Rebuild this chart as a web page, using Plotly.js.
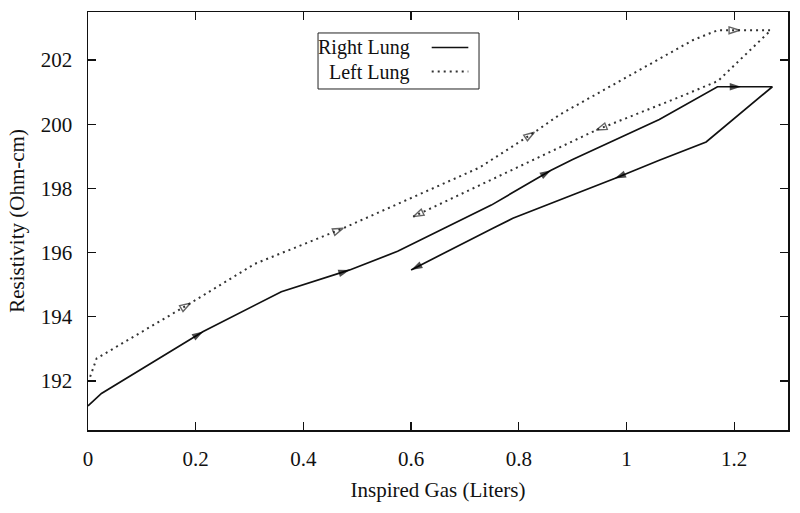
<!DOCTYPE html>
<html>
<head>
<meta charset="utf-8">
<script src="https://cdn.plot.ly/plotly-3.0.1.min.js"></script>
<style>html,body{margin:0;padding:0;background:#fff;}#chart{width:800px;height:513px;}</style>
</head>
<body>
<div id="chart"></div>
<script>
// Right Lung (solid) path
const rightX = [0, 0.025, 0.214, 0.359, 0.486, 0.575, 0.749, 0.86, 0.9, 1.061, 1.169, 1.213, 1.271, 1.148, 1.061, 0.978, 0.789, 0.752, 0.6];
const rightY = [191.22, 191.61, 193.54, 194.78, 195.46, 196.04, 197.48, 198.57, 198.9, 200.15, 201.17, 201.17, 201.17, 199.45, 198.88, 198.31, 197.07, 196.76, 195.46];
const rightArrows = [2, 4, 7, 11, 15, 18];

// Left Lung (dotted) path
const leftX = [0.004, 0.016, 0.19, 0.31, 0.474, 0.727, 0.829, 0.876, 1.123, 1.169, 1.21, 1.268, 1.17, 1.1, 0.944, 0.604];
const leftY = [192.13, 192.7, 194.42, 195.65, 196.76, 198.65, 199.75, 200.3, 202.62, 202.93, 202.93, 202.93, 201.35, 200.86, 199.82, 197.12];
const leftArrows = [2, 4, 6, 10, 14, 15];

const xTicks = [0, 0.2, 0.4, 0.6, 0.8, 1, 1.2];
const xTickText = ['0', '0.2', '0.4', '0.6', '0.8', '1', '1.2'];
const yTicks = [192, 194, 196, 198, 200, 202];
const yTickText = ['192', '194', '196', '198', '200', '202'];

const seriesNames = ['Right Lung', 'Left Lung'];

function sizesFor(n, idx, s) {
  const out = [];
  for (let i = 0; i < n; i++) out.push(idx.indexOf(i) >= 0 ? s : 0);
  return out;
}

const FONT = 'Liberation Serif, Times New Roman, serif';

const traces = [
  {
    x: rightX, y: rightY, mode: 'lines+markers', name: seriesNames[0],
    line: {color: '#111', width: 1.7, backoff: 0},
    marker: {symbol: 'arrow', angleref: 'previous', size: sizesFor(rightX.length, rightArrows, 12), color: '#000', line: {width: 0}},
    showlegend: false, hoverinfo: 'skip'
  },
  {
    x: leftX, y: leftY, mode: 'lines+markers', name: seriesNames[1],
    line: {color: '#333', width: 2, dash: '2px,4px', backoff: 0},
    marker: {symbol: 'arrow-open', angleref: 'previous', size: sizesFor(leftX.length, leftArrows, 11), color: '#222', line: {width: 1.4, color: '#222'}},
    showlegend: false, hoverinfo: 'skip'
  }
];

const axisCommon = {
  showgrid: false, zeroline: false, showline: true, linecolor: '#111', linewidth: 1.5,
  mirror: 'ticks', ticks: 'inside', ticklen: 8, tickwidth: 1.3, tickcolor: '#111',
  tickfont: {family: FONT, size: 21, color: '#111'}
};

// legend box (drawn by hand so the sample lines sit to the right of the text)
const lgX0 = 0.3286, lgX1 = 0.5586, lgY0 = 0.8158, lgY1 = 0.9498;
const layout = {
  width: 800, height: 513,
  margin: {l: 88, r: 12, t: 12, b: 83},
  paper_bgcolor: '#fff', plot_bgcolor: '#fff',
  font: {family: FONT, color: '#111'},
  xaxis: Object.assign({}, axisCommon, {
    range: [0, 1.3], tickvals: xTicks, ticktext: xTickText, ticklabelstandoff: 9,
    title: {text: 'Inspired Gas (Liters)', font: {family: FONT, size: 21, color: '#111'}, standoff: 12}
  }),
  yaxis: Object.assign({}, axisCommon, {
    range: [190.47, 203.5], tickvals: yTicks, ticktext: yTickText, ticklabelstandoff: 10,
    title: {text: 'Resistivity (Ohm-cm)', font: {family: FONT, size: 21, color: '#111'}, standoff: 10}
  }),
  shapes: [
    {type: 'rect', xref: 'paper', yref: 'paper', x0: lgX0, x1: lgX1, y0: lgY0, y1: lgY1, line: {color: '#222', width: 1}, fillcolor: 'rgba(0,0,0,0)'},
    {type: 'line', xref: 'paper', yref: 'paper', x0: 0.4910, x1: 0.5433, y0: 0.9151, y1: 0.9151, line: {color: '#111', width: 1.7}},
    {type: 'line', xref: 'paper', yref: 'paper', x0: 0.4910, x1: 0.5433, y0: 0.8577, y1: 0.8577, line: {color: '#333', width: 2, dash: '2px,4px'}}
  ],
  annotations: [
    {xref: 'paper', yref: 'paper', x: 0.4624, y: 0.9139, xanchor: 'right', yanchor: 'middle', showarrow: false, text: seriesNames[0], font: {family: FONT, size: 20, color: '#111'}},
    {xref: 'paper', yref: 'paper', x: 0.4624, y: 0.8560, xanchor: 'right', yanchor: 'middle', showarrow: false, text: seriesNames[1], font: {family: FONT, size: 20, color: '#111'}}
  ]
};

Plotly.newPlot('chart', traces, layout, {staticPlot: true, displayModeBar: false});
</script>
</body>
</html>
